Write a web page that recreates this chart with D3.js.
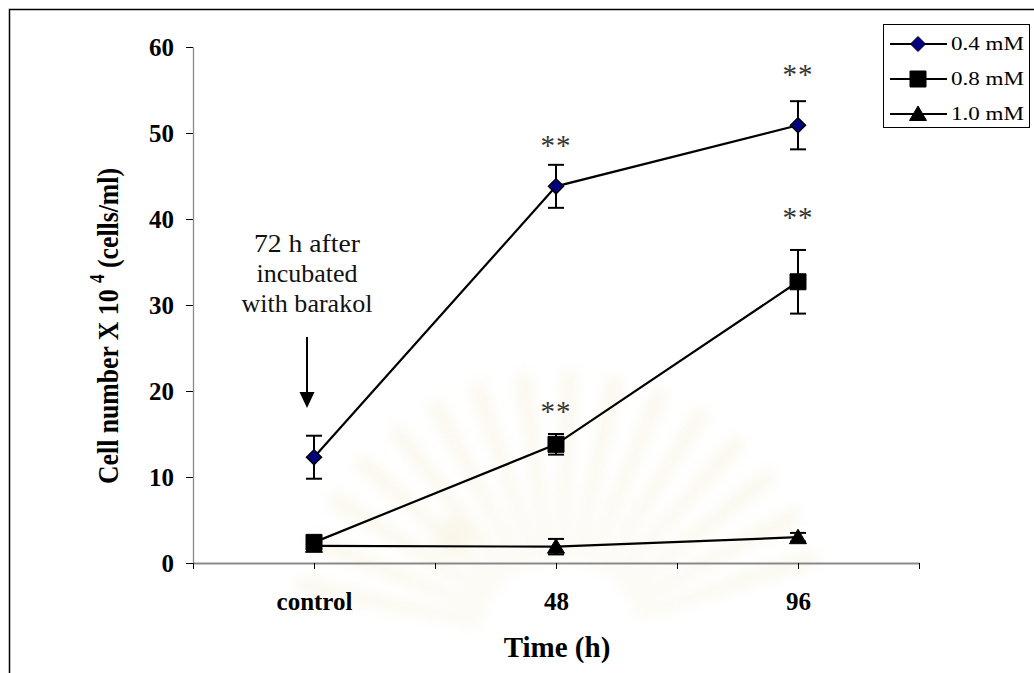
<!DOCTYPE html>
<html>
<head>
<meta charset="utf-8">
<script src="https://cdn.jsdelivr.net/npm/d3@7"></script>
<style>
  body { margin: 0; background: #fff; }
  svg { display: block; }
  text { font-family: "Liberation Serif", "Times New Roman", serif; }
</style>
</head>
<body>
<svg id="chart" width="1034" height="673"></svg>
<script>
// Time points (category labels) and their positions on the numeric x scale
const categories = ["control", "48", "96"];
const categoryPos = [1, 3, 5];
const xTickValues = [0, 1, 2, 3, 4, 5, 6];
const yTicks = [0, 10, 20, 30, 40, 50, 60];

// Barakol concentrations
const seriesNames = ["0.4 mM", "0.8 mM", "1.0 mM"];

// Mean cell number (x 10^4 cells/ml) and error (SD) per time point
const values04 = [12.3, 43.8, 50.9];
const errors04 = [2.5, 2.5, 2.8];
const values08 = [2.4, 13.8, 32.7];
const errors08 = [0.5, 1.2, 3.7];
const values10 = [2.0, 1.9, 3.0];
const errors10 = [0.3, 0.9, 0.5];

// Significance marks ("**"): series index, category index, label height (data units)
const sigSeries = [0, 0, 1, 1];
const sigCategory = [1, 2, 1, 2];
const sigHeight = [49.1, 57.3, 18.1, 40.7];

const annotationLines = ["72 h after", "incubated", "with barakol"];

const svg = d3.select("#chart");
const W = 1034, H = 673;
const plot = { left: 193, right: 919, top: 47, bottom: 563 };
const serif = "Liberation Serif";

const x = d3.scaleLinear().domain([0, 6]).range([plot.left, plot.right]);
const y = d3.scaleLinear().domain([0, 60]).range([plot.bottom, plot.top]);

// faint background emblem
const defs = svg.append("defs");
defs.append("filter").attr("id", "soft").append("feGaussianBlur").attr("stdDeviation", 7);
const emblem = svg.append("g").attr("filter", "url(#soft)").attr("opacity", 0.45);
const ec = [560, 640];
d3.range(-78, 79, 10).forEach(a => {
  const r = a * Math.PI / 180;
  const len = 270, w = 0.045;
  const p = [
    [ec[0] + Math.sin(r - w) * 80, ec[1] - Math.cos(r - w) * 80],
    [ec[0] + Math.sin(r - w * 0.6) * len, ec[1] - Math.cos(r - w * 0.6) * len],
    [ec[0] + Math.sin(r + w * 0.6) * len, ec[1] - Math.cos(r + w * 0.6) * len],
    [ec[0] + Math.sin(r + w) * 80, ec[1] - Math.cos(r + w) * 80]
  ];
  emblem.append("path").attr("d", "M" + p.join("L") + "Z").attr("fill", "#f4ecd2");
});
emblem.append("circle").attr("cx", 453).attr("cy", 537).attr("r", 20).attr("fill", "#f4ecd2");

// outer frame
svg.append("rect").attr("x", 9.5).attr("y", 9.5).attr("width", W + 20).attr("height", H + 20)
  .attr("fill", "none").attr("stroke", "#000").attr("stroke-width", 1.5);

// y axis
const yAxis = svg.append("g").attr("transform", `translate(${plot.left},0)`)
  .call(d3.axisLeft(y).tickValues(yTicks).tickSizeInner(7).tickSizeOuter(0).tickPadding(12));
yAxis.select(".domain").attr("stroke", "#8a8a8a").attr("stroke-width", 1.3);
yAxis.selectAll(".tick line").attr("stroke", "#000").attr("stroke-width", 1);
yAxis.selectAll(".tick text").attr("font-size", 25).attr("font-weight", "bold")
  .attr("font-family", serif).attr("fill", "#000");

// x axis
const xAxis = svg.append("g").attr("transform", `translate(0,${plot.bottom})`)
  .call(d3.axisBottom(x).tickValues(xTickValues).tickSizeInner(6).tickSizeOuter(0)
    .tickFormat(d => { const i = categoryPos.indexOf(d); return i >= 0 ? categories[i] : ""; })
    .tickPadding(23));
xAxis.select(".domain").attr("stroke", "#8a8a8a").attr("stroke-width", 2);
xAxis.selectAll(".tick line").attr("stroke", "#000").attr("stroke-width", 1);
xAxis.selectAll(".tick text").attr("font-size", 25).attr("font-weight", "bold")
  .attr("font-family", serif).attr("fill", "#000");

// axis titles
svg.append("text").attr("x", 557).attr("y", 657).attr("text-anchor", "middle")
  .attr("font-size", 29).attr("font-weight", "bold").text("Time (h)");
const yt = svg.append("text").attr("transform", "translate(118,326) rotate(-90)")
  .attr("text-anchor", "middle").attr("font-size", 30).attr("font-weight", "bold")
  .attr("textLength", 316).attr("lengthAdjust", "spacingAndGlyphs");
yt.append("tspan").text("Cell number X 10 ");
yt.append("tspan").attr("dy", -14).attr("font-size", 20).text("4");
yt.append("tspan").attr("dy", 14).text(" (cells/ml)");

// series data
const series = [
  { name: seriesNames[0], values: values04, errors: errors04, shape: "diamond", fill: "#000080" },
  { name: seriesNames[1], values: values08, errors: errors08, shape: "square", fill: "#000" },
  { name: seriesNames[2], values: values10, errors: errors10, shape: "triangle", fill: "#000" }
];

function markerPath(shape) {
  if (shape === "diamond") return "M0,-7.5L7.5,0L0,7.5L-7.5,0Z";
  if (shape === "square") return "M-8,-8H8V8H-8Z";
  return "M0,-8L8.5,6.5H-8.5Z";
}

const line = d3.line().x(d => x(d.x)).y(d => y(d.y));

// connecting lines
series.forEach(s => {
  const pts = s.values.map((v, i) => ({ x: categoryPos[i], y: v }));
  svg.append("path").datum(pts).attr("d", line).attr("fill", "none")
    .attr("stroke", "#000").attr("stroke-width", 2.2);
});

// error bars
series.forEach(s => {
  const g = svg.append("g").attr("stroke", "#000").attr("stroke-width", 2);
  s.values.forEach((v, i) => {
    const cx = x(categoryPos[i]);
    const top = y(v + s.errors[i]), bot = y(v - s.errors[i]);
    g.append("line").attr("x1", cx).attr("x2", cx).attr("y1", top).attr("y2", bot);
    g.append("line").attr("x1", cx - 8).attr("x2", cx + 8).attr("y1", top).attr("y2", top);
    g.append("line").attr("x1", cx - 8).attr("x2", cx + 8).attr("y1", bot).attr("y2", bot);
  });
});

// markers (last series first so the square sits on top of the triangle)
series.slice().reverse().forEach(s => {
  s.values.forEach((v, i) => {
    svg.append("path").attr("d", markerPath(s.shape))
      .attr("transform", `translate(${x(categoryPos[i])},${y(v)})`)
      .attr("fill", s.fill).attr("stroke", "#000").attr("stroke-width", s.shape === "diamond" ? 1.5 : 1);
  });
});

// significance marks
sigSeries.forEach((si, k) => {
  svg.append("text").attr("x", x(categoryPos[sigCategory[k]])).attr("y", y(sigHeight[k]) + 14)
    .attr("text-anchor", "middle").attr("font-size", 29).attr("fill", "#333")
    .attr("letter-spacing", 1).text("**");
});

// annotation with arrow at the control point
const ax = x(categoryPos[0]) - 7;
const annWidths = [106, 101, 131];
annotationLines.forEach((t, i) => {
  svg.append("text").attr("x", ax).attr("y", 252 + i * 30).attr("text-anchor", "middle")
    .attr("font-size", 25).attr("fill", "#111")
    .attr("textLength", annWidths[i]).attr("lengthAdjust", "spacingAndGlyphs").text(t);
});
svg.append("line").attr("x1", ax).attr("x2", ax).attr("y1", 337).attr("y2", 394)
  .attr("stroke", "#000").attr("stroke-width", 2);
svg.append("path").attr("d", `M${ax - 7.5},392L${ax + 7.5},392L${ax},408Z`).attr("fill", "#000");

// legend
const lg = svg.append("g");
lg.append("rect").attr("x", 883.5).attr("y", 24.5).attr("width", 146).attr("height", 103)
  .attr("fill", "#fff").attr("stroke", "#000").attr("stroke-width", 1);
series.forEach((s, i) => {
  const ly = 44 + i * 35;
  lg.append("line").attr("x1", 890).attr("x2", 947).attr("y1", ly).attr("y2", ly)
    .attr("stroke", "#000").attr("stroke-width", 2);
  lg.append("path").attr("d", markerPath(s.shape)).attr("transform", `translate(918,${ly})`)
    .attr("fill", s.fill).attr("stroke", "#000").attr("stroke-width", 1);
  lg.append("text").attr("x", 951).attr("y", ly + 6).attr("font-size", 18)
    .attr("textLength", 73).attr("lengthAdjust", "spacingAndGlyphs").text(s.name);
});
</script>
</body>
</html>
